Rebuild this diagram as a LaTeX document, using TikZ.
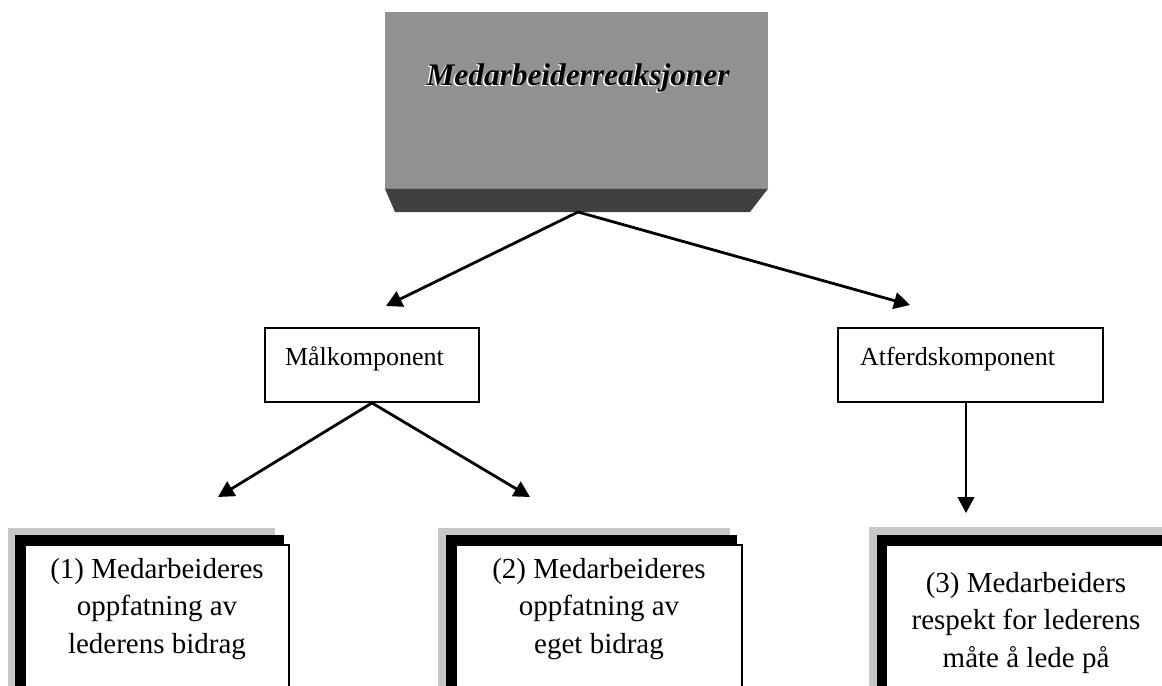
\documentclass[tikz,border=0pt]{standalone}
\usepackage{fontspec}
\setmainfont{Liberation Serif}
\usetikzlibrary{arrows.meta}
\begin{document}
\begin{tikzpicture}[x=0.75pt,y=-0.75pt,
  arr/.style={line width=2.1pt,-{Triangle[length=12pt,width=12.5pt]}},
  midbox/.style={draw,line width=1.4pt,inner ysep=0pt,text height=27.75pt,text depth=27.75pt,align=left,font=\fontsize{19.5}{23}\selectfont},
  bottxt/.style={align=center,inner sep=0pt,font=\fontsize{21.75}{28.1}\selectfont},
  shadowfill/.style={fill=black!22},
  frontbox/.style={fill=white,draw=black,line width=1.6pt},
  toptext/.style={font=\fontsize{23.5}{28}\selectfont\bfseries\itshape,inner sep=0pt,anchor=base}]
\useasboundingbox (0,0) rectangle (1162,685);
% top 3D box
\node[fill=black!43,inner sep=0pt,minimum width=287.25pt,minimum height=132pt] (top) at (576.5,100) {};
\fill[black!75] (top.south west) -- (top.south east) -- (750,212) -- (395,212) -- cycle;
\node[toptext,text=white] (topshadow) at (576.5,86.5) {Medarbeiderreaksjoner};
\node[toptext,text=black] (toptxt) at (578,85) {Medarbeiderreaksjoner};
\coordinate (topout) at (578,212);
% middle boxes
\node[midbox,text width=130.5pt,inner xsep=15pt] (malk) at (372,365) {Målkomponent};
\node[midbox,text width=165.75pt,inner xsep=16.5pt] (atf) at (970.5,365) {Atferdskomponent};
% arrow ends
\coordinate (t1) at (386,306);
\coordinate (t2) at (910,305);
\coordinate (t3) at (218,497);
\coordinate (t4) at (530,497);
\coordinate (t5) at (966,513);
\draw[arr] (topout) -- (t1);
\draw[arr] (topout) -- (t2);
\draw[arr] (malk.south) -- (t3);
\draw[arr] (malk.south) -- (t4);
\draw[arr,line width=1.6pt] (atf.south -| t5) -- (t5);
% bottom boxes
\fill[shadowfill] (8,528) rectangle (275,700);
\fill[black] (15,535) rectangle (284,700);
\filldraw[frontbox] (25,545) rectangle (289,700);
\node[bottxt] (b1) at (157,609) {(1) Medarbeideres\\oppfatning av\\lederens bidrag};
\fill[shadowfill] (438,528) rectangle (730,700);
\fill[black] (446,535) rectangle (737,700);
\filldraw[frontbox] (456,545) rectangle (742,700);
\node[bottxt] (b2) at (599,609) {(2) Medarbeideres\\oppfatning av\\eget bidrag};
\fill[shadowfill] (869,527) rectangle (1175,700);
\fill[black] (877,535) rectangle (1175,700);
\filldraw[frontbox] (886,545) rectangle (1180,700);
\node[bottxt] (b3) at (1026,623) {(3) Medarbeiders\\respekt for lederens\\måte å lede på};
\end{tikzpicture}
\end{document}
